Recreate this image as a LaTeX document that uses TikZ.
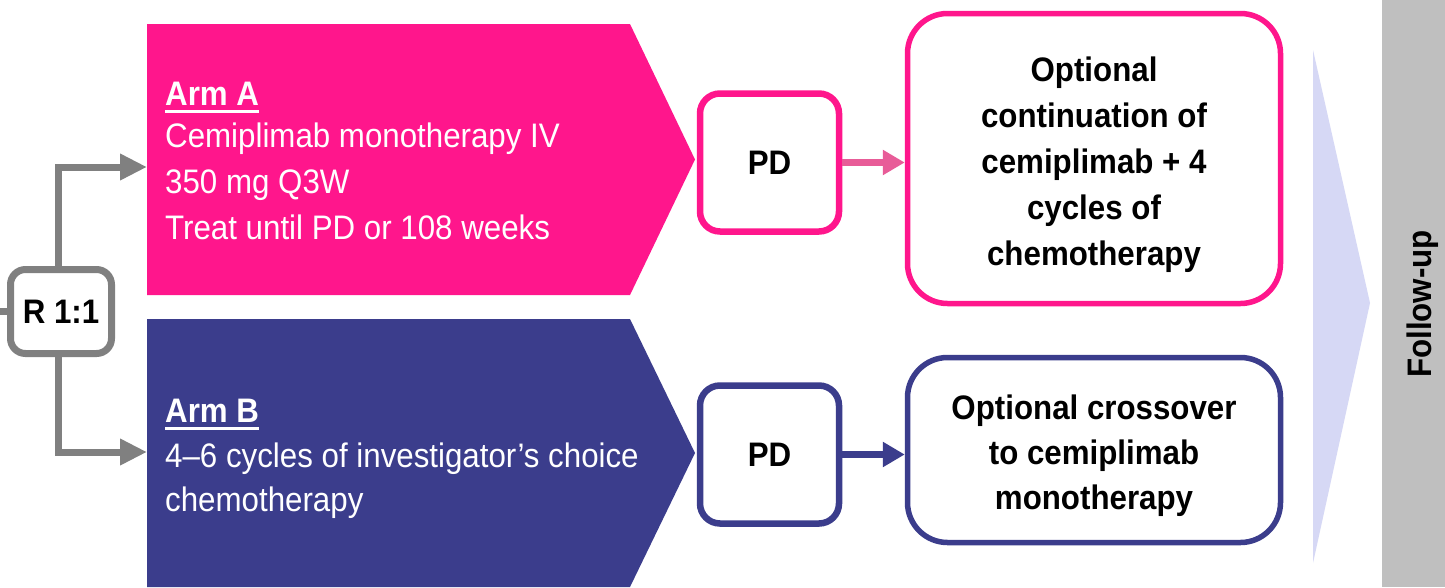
\documentclass[tikz,border=0pt]{standalone}
\usepackage{fontspec}
\setmainfont{Liberation Sans}[FakeStretch=0.92]
\usetikzlibrary{arrows.meta}
\definecolor{pinkA}{RGB}{255,22,140}
\definecolor{blueB}{RGB}{59,61,140}
\definecolor{pinkArr}{RGB}{232,92,152}
\definecolor{lav}{RGB}{214,216,245}
\definecolor{barg}{RGB}{191,191,191}
\definecolor{connG}{RGB}{128,128,128}
\begin{document}
\begin{tikzpicture}[x=1pt,y=-1pt,
  armtxt/.style={anchor=base west, inner sep=0pt, text=white, font=\fontsize{34}{40}\selectfont},
  armhead/.style={anchor=base west, inner sep=0pt, text=white, font=\fontsize{34}{40}\selectfont\bfseries},
  boxtxt/.style={anchor=base, inner sep=0pt, text=black, font=\fontsize{34}{40}\selectfont\bfseries},
  pdbox/.style={draw=#1, line width=6.5pt, rounded corners=20pt, fill=white, minimum width=139pt, minimum height=138pt, inner sep=0pt, font=\fontsize{34}{40}\selectfont\bfseries},
  outbox/.style={draw=#1, line width=5.5pt, rounded corners=40pt, fill=white, minimum width=373pt, inner sep=0pt},
  gline/.style={draw=connG, line width=7pt},
  gconn/.style={draw=connG, line width=7pt, -{Triangle[length=27pt,width=25pt]}},
  cconn/.style={draw=#1, line width=6.5pt, -{Triangle[length=22pt,width=24pt]}},
  uline/.style={draw=white, line width=3pt},
]
\useasboundingbox (0,0) rectangle (1445,587);
\fill[white] (0,0) rectangle (1445,587);
% arms
\fill[pinkA] (147,24) -- (630,24) -- (695,159.5) -- (630,295) -- (147,295) -- cycle;
\fill[blueB] (147,319) -- (630,319) -- (695,453) -- (630,587) -- (147,587) -- cycle;
% follow-up
\fill[lav] (1313,50) -- (1370,303) -- (1313,563) -- cycle;
\fill[barg] (1382,0) rectangle (1445,587);
\node[rotate=90, inner sep=0pt, font=\fontsize{34}{40}\selectfont\bfseries] (fu) at (1423,304) {Follow-up};
% randomisation
\node[draw=connG, line width=7pt, rounded corners=15pt, fill=white, minimum width=101pt, minimum height=84pt, inner sep=0pt, font=\fontsize{34}{40}\selectfont\bfseries] (R) at (61,311.5) {R 1:1};
\coordinate (inlet) at (0,311.5);
\coordinate (armAin) at (147,167);
\coordinate (armBin) at (147,452);
\draw[gline] (inlet) -- (R.west);
\draw[gconn] ([xshift=-3pt]R.north) |- (armAin);
\draw[gconn] ([xshift=-3pt]R.south) |- (armBin);
% PD boxes
\node[pdbox=pinkA] (pdA) at (769.5,162.5) {PD};
\node[pdbox=blueB] (pdB) at (769.5,454.5) {PD};
% outcome boxes
\node[outbox=pinkA, minimum height=290pt] (rA) at (1094,158.5) {};
\node[outbox=blueB, minimum height=185pt] (rB) at (1094,450) {};
\draw[cconn=pinkArr] (pdA.east) -- (pdA.east -| rA.west);
\draw[cconn=blueB] (pdB.east) -- (pdB.east -| rB.west);
% arm texts
\node[armhead] (aH) at (165,105) {Arm A};
\draw[uline] ([yshift=-6.5pt]aH.base west) -- ([yshift=-6.5pt]aH.base east);
\node[armtxt] (a1) at (165,147) {Cemiplimab monotherapy IV};
\node[armtxt] (a2) at (165,193) {350 mg Q3W};
\node[armtxt] (a3) at (165,239) {Treat until PD or 108 weeks};
\node[armhead] (bH) at (165,422) {Arm B};
\draw[uline] ([yshift=-6.5pt]bH.base west) -- ([yshift=-6.5pt]bH.base east);
\node[armtxt] (b1) at (165,467) {4–6 cycles of investigator’s choice};
\node[armtxt] (b2) at (165,511) {chemotherapy};
% outcome texts
\node[boxtxt] (ra1) at (1094,81) {Optional};
\node[boxtxt] (ra2) at (1094,127) {continuation of};
\node[boxtxt] (ra3) at (1094,173) {cemiplimab + 4};
\node[boxtxt] (ra4) at (1094,219) {cycles of};
\node[boxtxt] (ra5) at (1094,265) {chemotherapy};
\node[boxtxt] (rb1) at (1094,419) {Optional crossover};
\node[boxtxt] (rb2) at (1094,464) {to cemiplimab};
\node[boxtxt] (rb3) at (1094,509) {monotherapy};
\end{tikzpicture}
\end{document}
